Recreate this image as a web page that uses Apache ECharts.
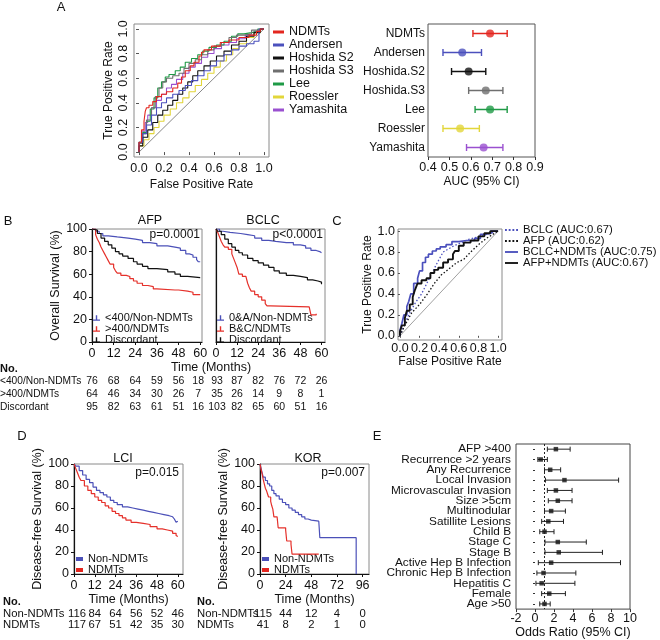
<!DOCTYPE html>
<html><head><meta charset="utf-8">
<script src="https://cdn.jsdelivr.net/npm/echarts@6/dist/echarts.min.js"></script>
<style>html,body{margin:0;padding:0;background:#fff}#c{width:660px;height:640px}</style>
</head><body><div id="c"></div>
<script>
// ---------------- DATA ----------------
// Panel A (left): ROC curves [FPR, TPR]
const rocNames = ['NDMTs','Andersen','Hoshida S2','Hoshida S3','Lee','Roessler','Yamashita'];
const rocNDMTs = [[0,0],[0.02,0.08],[0.04,0.18],[0.05,0.25],[0.06,0.33],[0.08,0.36],[0.11,0.38],[0.14,0.41],[0.18,0.45],[0.22,0.47],[0.27,0.49],[0.31,0.52],[0.34,0.56],[0.37,0.61],[0.41,0.66],[0.44,0.70],[0.48,0.73],[0.50,0.78],[0.52,0.81],[0.58,0.83],[0.65,0.86],[0.72,0.89],[0.80,0.91],[0.88,0.93],[0.94,0.95],[0.97,0.98],[1,1]];
const rocAndersen = [[0,0],[0.03,0.08],[0.06,0.15],[0.1,0.22],[0.14,0.3],[0.18,0.36],[0.22,0.4],[0.27,0.44],[0.32,0.47],[0.37,0.5],[0.42,0.54],[0.47,0.58],[0.52,0.62],[0.57,0.66],[0.62,0.7],[0.68,0.74],[0.74,0.79],[0.8,0.83],[0.86,0.86],[0.92,0.88],[0.96,0.9],[1,1]];
const rocHoshidaS2 = [[0,0],[0.03,0.05],[0.07,0.12],[0.11,0.18],[0.15,0.24],[0.19,0.3],[0.23,0.34],[0.27,0.38],[0.31,0.42],[0.35,0.47],[0.39,0.52],[0.43,0.57],[0.47,0.62],[0.52,0.66],[0.57,0.7],[0.62,0.74],[0.68,0.78],[0.74,0.82],[0.8,0.87],[0.86,0.9],[0.92,0.94],[0.97,0.97],[1,1]];
const rocHoshidaS3 = [[0,0],[0.03,0.07],[0.06,0.15],[0.1,0.26],[0.13,0.36],[0.16,0.45],[0.19,0.52],[0.22,0.57],[0.27,0.6],[0.32,0.62],[0.36,0.64],[0.4,0.68],[0.45,0.72],[0.5,0.75],[0.55,0.79],[0.6,0.83],[0.66,0.86],[0.72,0.89],[0.78,0.93],[0.84,0.95],[0.9,0.96],[0.95,0.99],[1,1]];
const rocLee = [[0,0],[0.03,0.08],[0.06,0.16],[0.09,0.25],[0.12,0.35],[0.15,0.44],[0.18,0.52],[0.21,0.57],[0.24,0.61],[0.29,0.63],[0.33,0.66],[0.37,0.69],[0.42,0.73],[0.47,0.76],[0.51,0.79],[0.56,0.82],[0.62,0.85],[0.68,0.87],[0.74,0.9],[0.79,0.94],[0.84,0.96],[0.9,0.97],[0.95,0.98],[1,1]];
const rocRoessler = [[0,0],[0.04,0.05],[0.08,0.1],[0.12,0.15],[0.16,0.2],[0.2,0.25],[0.25,0.3],[0.3,0.35],[0.35,0.4],[0.4,0.44],[0.45,0.49],[0.5,0.54],[0.55,0.59],[0.6,0.64],[0.65,0.69],[0.7,0.74],[0.75,0.79],[0.8,0.84],[0.86,0.88],[0.92,0.93],[0.97,0.97],[1,1]];
const rocYamashita = [[0,0],[0.02,0.07],[0.05,0.17],[0.07,0.24],[0.1,0.3],[0.14,0.36],[0.18,0.42],[0.22,0.47],[0.26,0.52],[0.3,0.55],[0.35,0.59],[0.4,0.64],[0.45,0.69],[0.5,0.72],[0.55,0.77],[0.6,0.8],[0.66,0.84],[0.72,0.87],[0.78,0.89],[0.85,0.92],[0.92,0.95],[0.97,0.98],[1,1]];
const rocTicks = [0,0.2,0.4,0.6,0.8,1.0];

// Panel A (right): AUC with 95% CI
const aucModels = ['NDMTs','Andersen','Hoshida.S2','Hoshida.S3','Lee','Roessler','Yamashita'];
const aucEst  = [0.69,0.56,0.59,0.67,0.69,0.55,0.66];
const aucLow  = [0.61,0.47,0.51,0.59,0.62,0.47,0.58];
const aucHigh = [0.77,0.65,0.67,0.75,0.77,0.64,0.75];

// Panel B: Kaplan-Meier overall survival [month, %]
const kmTicksB = [0,12,24,36,48,60];
const afpLow   = [[0,100],[2,98],[4,96],[6,94],[9,93],[14,92],[20,91],[24,90],[28,88],[32,87],[36,85],[42,84],[46,83],[49,81],[52,78],[54,77],[56,75],[58,73],[59,71],[60,71]];
const afpHigh  = [[0,100],[2,95],[3,91],[4,88],[5,84],[6,81],[7,78],[8,75],[9,72],[10,69],[12,66],[13,63],[14,61],[16,59],[19,58],[21,56],[23,54],[25,52],[28,50],[31,49],[34,47],[36,46],[46,46],[48,45],[53,44],[56,42],[60,42]];
const afpDisc  = [[0,100],[1,99],[3,96],[5,92],[7,89],[9,86],[11,83],[13,80],[15,78],[17,76],[20,74],[23,71],[25,69],[28,67],[31,65],[36,64],[42,62],[46,60],[49,58],[53,57],[60,57]];
const bclcLow  = [[0,100],[2,98],[4,97],[8,96],[14,95],[18,94],[22,92],[26,90],[30,89],[34,88],[40,88],[44,86],[48,85],[51,83],[54,81],[57,80],[59,79],[60,79]];
const bclcHigh = [[0,100],[1,97],[2,93],[3,89],[4,86],[5,84],[7,82],[9,78],[10,74],[11,70],[12,66],[13,60],[15,58],[17,57],[18,52],[19,48],[20,45],[22,42],[24,40],[26,37],[28,34],[29,32],[31,31],[53,31],[54,24],[57,25]];
const bclcDisc = [[0,100],[1,98],[3,95],[5,91],[7,87],[9,84],[11,81],[13,79],[15,77],[18,74],[21,72],[24,70],[27,68],[30,66],[33,63],[36,61],[40,59],[44,58],[48,57],[52,55],[55,54],[58,53],[60,51]];
const bRowLabels = ['<400/Non-NDMTs','>400/NDMTs','Discordant'];
const bLegendAFP  = ['<400/Non-NDMTs','>400/NDMTs','Discordant'];
const bLegendBCLC = ['0&A/Non-NDMTs','B&C/NDMTs','Discordant'];
const afpAtRisk  = [[76,68,64,59,56,18],[64,46,34,30,26,7],[95,82,63,61,51,16]];
const bclcAtRisk = [[93,87,82,76,72,26],[35,26,14,9,8,1],[103,82,65,60,51,16]];

// Panel C: ROC of combined models
const cNames = ['BCLC (AUC:0.67)','AFP (AUC:0.62)','BCLC+NDMTs (AUC:0.75)','AFP+NDMTs (AUC:0.67)'];
const rocBCLC = [[0,0],[0.05,0.12],[0.1,0.22],[0.16,0.32],[0.22,0.4],[0.3,0.55],[0.37,0.68],[0.44,0.8],[0.55,0.86],[0.7,0.92],[0.85,0.96],[1,1]];
const rocAFP = [[0,0],[0.05,0.1],[0.12,0.22],[0.2,0.3],[0.28,0.4],[0.35,0.5],[0.42,0.58],[0.5,0.64],[0.58,0.7],[0.65,0.73],[0.72,0.8],[0.8,0.87],[0.88,0.93],[1,1]];
const rocBCLCNDMTs = [[0,0],[0.02,0.05],[0.04,0.12],[0.07,0.2],[0.09,0.28],[0.11,0.33],[0.14,0.4],[0.14,0.47],[0.18,0.5],[0.2,0.55],[0.23,0.62],[0.26,0.7],[0.29,0.75],[0.33,0.78],[0.37,0.81],[0.41,0.83],[0.47,0.85],[0.53,0.87],[0.6,0.9],[0.68,0.91],[0.76,0.91],[0.82,0.93],[0.87,0.97],[0.93,0.98],[1,1]];
const rocAFPNDMTs = [[0,0],[0.02,0.04],[0.05,0.1],[0.07,0.17],[0.1,0.24],[0.13,0.3],[0.15,0.37],[0.17,0.43],[0.18,0.48],[0.22,0.5],[0.27,0.53],[0.31,0.55],[0.35,0.6],[0.39,0.63],[0.44,0.65],[0.49,0.7],[0.54,0.73],[0.56,0.78],[0.6,0.81],[0.65,0.86],[0.72,0.89],[0.8,0.91],[0.86,0.95],[0.92,0.98],[1,1]];

// Panel D: disease-free survival
const kmTicksLCI = [0,12,24,36,48,60];
const kmTicksKOR = [0,24,48,72,96];
const lciNon = [[0,100],[1,98],[3,94],[5,90],[7,86],[9,83],[11,79],[13,76],[15,74],[17,72],[19,70],[21,67],[23,65],[25,63],[28,61],[31,60],[34,59],[37,58],[40,57],[43,56],[46,55],[49,54],[52,53],[55,52],[57,51],[58,50],[59,47],[60,48]];
const lciNDMT = [[0,100],[1,96],[2,92],[3,88],[4,85],[6,80],[8,76],[10,73],[12,70],[14,67],[16,65],[18,62],[20,60],[22,57],[24,55],[26,53],[28,51],[30,49],[33,47],[36,46],[40,45],[44,43],[48,41],[51,40],[54,39],[57,37],[59,35],[60,34]];
const korNon = [[0,100],[1,96],[2,92],[3,88],[5,85],[7,82],[9,80],[11,76],[13,73],[15,71],[18,68],[21,65],[24,63],[27,60],[30,58],[33,56],[36,54],[39,52],[42,50],[45,49],[48,48],[55,48],[56,33],[90,33],[90,0]];
const korNDMT = [[0,100],[1,95],[2,91],[3,86],[4,82],[5,78],[6,76],[7,73],[8,70],[10,66],[11,62],[12,59],[13,52],[16,51],[17,42],[24,40],[25,30],[29,27],[30,18],[55,18]];
const dRowLabels = ['Non-NDMTs','NDMTs'];
const lciAtRisk = [[116,84,64,56,52,46],[117,67,51,42,35,30]];
const korAtRisk = [[115,44,12,4,0],[41,8,2,1,0]];

// Panel E: odds ratios
const orFactors = ['AFP >400','Recurrence >2 years','Any Recurrence','Local Invasion','Microvascular Invasion','Size >5cm','Multinodular','Satillite Lesions','Child B','Stage C','Stage B','Active Hep B Infection','Chronic Hep B Infection','Hepatitis C','Female','Age >50'];
const orEst  = [2.2,0.6,1.6,3.1,2.2,2.4,1.7,1.4,1.0,2.4,2.5,1.7,0.9,0.7,1.5,1.0];
const orLow  = [1.3,0.3,1.0,1.1,1.3,1.4,1.0,0.7,0.5,1.05,1.05,0.35,0.2,0.1,0.7,0.5];
const orHigh = [3.7,1.3,2.7,8.8,3.9,3.9,3.2,3.0,2.0,5.4,7.1,9.0,4.3,4.2,3.2,1.6];

// ---------------- STYLE ----------------
const FONT = 'Liberation Sans, Arial, Helvetica, sans-serif';
const TXT = '#111';
const RED = '#e3261f', BLUE = '#4b50bd', BLACK = '#111', GREY = '#6f6f6f', GREEN = '#1f9a46', YELLOW = '#e2d63a', PURPLE = '#9a50d0';
const rocColors = [RED, BLUE, BLACK, GREY, GREEN, YELLOW, PURPLE];
const rocData = [rocNDMTs, rocAndersen, rocHoshidaS2, rocHoshidaS3, rocLee, rocRoessler, rocYamashita];
const KMB = '#4b50b8', KMR = '#e5302a';

const chart = echarts.init(document.getElementById('c'));

function grid(l,t,w,h,bc){return {left:l,top:t,width:w,height:h,show:true,borderColor:bc||'#8a8a8a',borderWidth:1,backgroundColor:'transparent'};}
function lab(o){return Object.assign({color:TXT,fontSize:12,fontFamily:FONT},o||{});}
function nameStyle(fs){return {color:TXT,fontSize:fs||12,fontFamily:FONT};}

const grids = [
  grid(134,24,135,133,'#8a8a8a'),
  grid(428,24,107,133,'#555'),
  grid(92,229,110,113),
  grid(216,229,109,113),
  grid(398,229,104,111,'#8a8a8a'),
  grid(74,464,109,110),
  grid(260,464,109,110),
  grid(516,444,114,168,'#444')
];

const f1 = v => v.toFixed(1);
const kmXAxis = (gi,max,ticks,name,gap) => ({gridIndex:gi,type:'value',min:0,max:max,
  axisLine:{show:true,onZero:false,lineStyle:{color:'#111',width:1.2}},
  axisTick:{show:true,length:3,customValues:ticks,lineStyle:{color:'#111'}},
  axisLabel:lab({customValues:ticks,margin:5,fontSize:12.5}),
  splitLine:{show:false},
  name:name||'',nameLocation:'middle',nameGap:gap||17,nameTextStyle:nameStyle(12.5)});
const kmYAxis = (gi,showLab,name,gap) => ({gridIndex:gi,type:'value',min:0,max:100,interval:20,
  axisLine:{show:true,onZero:false,lineStyle:{color:'#111',width:1.2}},
  axisTick:{show:showLab,length:3,lineStyle:{color:'#111'}},
  axisLabel:lab({show:showLab,margin:5,fontSize:12.5}),
  splitLine:{show:false},
  name:name||'',nameLocation:'middle',nameRotate:90,nameGap:gap||21,nameTextStyle:nameStyle(12.5)});

const xAxes = [
  {gridIndex:0,type:'value',min:-0.04,max:1.04,axisLine:{show:false},
   axisTick:{show:true,length:3,customValues:rocTicks,lineStyle:{color:'#555'}},
   axisLabel:lab({customValues:rocTicks,formatter:f1,margin:5,fontSize:12.5}),splitLine:{show:false},
   name:'False Positive Rate',nameLocation:'middle',nameGap:22,nameTextStyle:nameStyle(12)},
  {gridIndex:1,type:'value',min:0.4,max:0.9,interval:0.1,axisLine:{show:false},
   axisTick:{show:true,length:3,lineStyle:{color:'#333'}},
   axisLabel:lab({formatter:f1,margin:4,fontSize:12.5}),splitLine:{show:false},
   name:'AUC (95% CI)',nameLocation:'middle',nameGap:19,nameTextStyle:nameStyle(12)},
  kmXAxis(2,61,kmTicksB),
  kmXAxis(3,62,kmTicksB),
  {gridIndex:4,type:'value',min:-0.02,max:1.04,axisLine:{show:false},
   axisTick:{show:true,length:2,customValues:rocTicks,lineStyle:{color:'#555'}},
   axisLabel:lab({customValues:rocTicks,formatter:f1,margin:2,fontSize:12.5}),splitLine:{show:false},
   name:'False Positive Rate',nameLocation:'middle',nameGap:16,nameTextStyle:nameStyle(12)},
  kmXAxis(5,63,kmTicksLCI,'Time (Months)',17),
  kmXAxis(6,102,kmTicksKOR,'Time (Months)',17),
  {gridIndex:7,type:'value',min:-2,max:10,interval:2,axisLine:{show:false},
   axisTick:{show:true,length:3,lineStyle:{color:'#333'}},
   axisLabel:lab({margin:3,fontSize:12.5}),splitLine:{show:false},
   name:'Odds Ratio (95% CI)',nameLocation:'middle',nameGap:14,nameTextStyle:nameStyle(12.5)}
];
const yAxes = [
  {gridIndex:0,type:'value',min:-0.04,max:1.04,axisLine:{show:false},
   axisTick:{show:true,length:3,customValues:rocTicks,lineStyle:{color:'#555'}},
   axisLabel:lab({customValues:rocTicks,formatter:f1,rotate:90,margin:4,fontSize:12.5}),splitLine:{show:false},
   name:'True Positive Rate',nameLocation:'middle',nameRotate:90,nameGap:19,nameTextStyle:nameStyle(12)},
  {gridIndex:1,type:'category',data:aucModels,inverse:true,axisLine:{show:false},axisTick:{show:false},
   axisLabel:lab({margin:3,fontSize:12})},
  kmYAxis(2,true,'Overall Survival (%)',30),
  kmYAxis(3,false),
  {gridIndex:4,type:'value',min:-0.04,max:1.02,axisLine:{show:false},
   axisTick:{show:true,length:2,customValues:rocTicks,lineStyle:{color:'#555'}},
   axisLabel:lab({customValues:rocTicks,formatter:f1,margin:3,fontSize:12.5}),splitLine:{show:false},
   name:'True Positive Rate',nameLocation:'middle',nameRotate:90,nameGap:22,nameTextStyle:nameStyle(12)},
  kmYAxis(5,true,'Disease-free Survival (%)',22),
  kmYAxis(6,true,'Disease-free Survival (%)',22),
  {gridIndex:7,type:'category',data:orFactors,inverse:true,axisLine:{show:false},
   axisTick:{show:true,length:2,alignWithLabel:true,lineStyle:{color:'#333'}},
   axisLabel:lab({margin:5,fontSize:11.8,interval:0})}
];

const series = [];
// A: ROC
rocNames.forEach((n,i)=>{
  series.push({name:n,type:'line',xAxisIndex:0,yAxisIndex:0,data:rocData[i],step:'start',symbol:'none',
    lineStyle:{color:rocColors[i],width:1.1},itemStyle:{color:rocColors[i]},z:10-i});
});
series.push({type:'line',xAxisIndex:0,yAxisIndex:0,data:[[0,0],[1,1]],symbol:'none',silent:true,
  lineStyle:{color:'#555',width:0.7},z:1});

// error bar renderer
function errRender(colors, capH, lw){
  return function(params, api){
    const idx = api.value(0);
    const lo = api.coord([api.value(1), idx]);
    const hi = api.coord([api.value(2), idx]);
    const c = Array.isArray(colors) ? colors[params.dataIndex] : colors;
    const st = {stroke:c, lineWidth:lw, fill:null};
    return {type:'group',children:[
      {type:'line',shape:{x1:lo[0],y1:lo[1],x2:hi[0],y2:hi[1]},style:st},
      {type:'line',shape:{x1:lo[0],y1:lo[1]-capH,x2:lo[0],y2:lo[1]+capH},style:st},
      {type:'line',shape:{x1:hi[0],y1:hi[1]-capH,x2:hi[0],y2:hi[1]+capH},style:st}
    ]};
  };
}
// A: forest
series.push({type:'custom',xAxisIndex:1,yAxisIndex:1,renderItem:errRender(rocColors,3.5,1.4),
  encode:{x:[1,2],y:0},data:aucModels.map((m,i)=>[i,aucLow[i],aucHigh[i]]),z:3});
series.push({type:'scatter',xAxisIndex:1,yAxisIndex:1,symbol:'circle',symbolSize:8,
  data:aucModels.map((m,i)=>({value:[aucEst[i],m],itemStyle:{color:rocColors[i]}})),z:4});

// B: KM
function km(name,data,xi,color){
  return {name:name,type:'line',xAxisIndex:xi,yAxisIndex:xi,data:data,step:'end',symbol:'none',
    lineStyle:{color:color,width:1.2},itemStyle:{color:color},z:5};
}
series.push(km(bLegendAFP[0],afpLow,2,KMB), km(bLegendAFP[1],afpHigh,2,KMR), km(bLegendAFP[2],afpDisc,2,BLACK));
series.push(km(bLegendBCLC[0],bclcLow,3,KMB), km(bLegendBCLC[1],bclcHigh,3,KMR), km(bLegendBCLC[2],bclcDisc,3,BLACK));

// C: ROC
series.push({name:cNames[0],type:'line',xAxisIndex:4,yAxisIndex:4,data:rocBCLC,symbol:'none',
  lineStyle:{color:BLUE,width:1.3,type:[1.5,2]},itemStyle:{color:BLUE},z:5});
series.push({name:cNames[1],type:'line',xAxisIndex:4,yAxisIndex:4,data:rocAFP,symbol:'none',
  lineStyle:{color:BLACK,width:1.3,type:[1.5,2]},itemStyle:{color:BLACK},z:5});
series.push({name:cNames[2],type:'line',xAxisIndex:4,yAxisIndex:4,data:rocBCLCNDMTs,step:'start',symbol:'none',
  lineStyle:{color:BLUE,width:1.7},itemStyle:{color:BLUE},z:6});
series.push({name:cNames[3],type:'line',xAxisIndex:4,yAxisIndex:4,data:rocAFPNDMTs,step:'start',symbol:'none',
  lineStyle:{color:BLACK,width:1.9},itemStyle:{color:BLACK},z:7});
series.push({type:'line',xAxisIndex:4,yAxisIndex:4,data:[[0,0],[1,1]],symbol:'none',silent:true,
  lineStyle:{color:'#888',width:0.8},z:1});

// D: KM
series.push(km('Non-NDMTs',lciNon,5,KMB), km('NDMTs',lciNDMT,5,KMR));
series.push(km('Non-NDMTs',korNon,6,KMB), km('NDMTs',korNDMT,6,KMR));

// E: forest
series.push({type:'custom',xAxisIndex:7,yAxisIndex:7,renderItem:errRender('#222',2.5,1),
  encode:{x:[1,2],y:0},data:orFactors.map((f,i)=>[i,orLow[i],orHigh[i]]),z:3,
  markLine:{silent:true,symbol:'none',label:{show:false},lineStyle:{color:'#222',type:[2,2],width:1},data:[{xAxis:1}]}});
series.push({type:'scatter',xAxisIndex:7,yAxisIndex:7,symbol:'rect',symbolSize:4.5,
  itemStyle:{color:'#111'},data:orFactors.map((f,i)=>[orEst[i],f]),z:4});

const kmIcon = 'path://M0,8h10v2h-10z M4,2h2v6h-2z';
const dotIcon = 'path://M0,0h2v2h-2z M4,0h2v2h-2z M8,0h2v2h-2z M12,0h2v2h-2z';
const solidIcon = 'path://M0,0h14v2h-14z';
const legends = [
  {orient:'vertical',left:273,top:25.5,itemWidth:11,itemHeight:3,icon:'rect',itemGap:0,padding:0,
   textStyle:{color:TXT,fontSize:12.5,fontFamily:FONT,lineHeight:10.8},data:rocNames},
  {orient:'vertical',left:505,top:224.5,itemWidth:13,itemHeight:2.5,itemGap:0,padding:0,
   textStyle:{color:TXT,fontSize:11.3,fontFamily:FONT,lineHeight:11},
   data:[{name:cNames[0],icon:dotIcon},{name:cNames[1],icon:dotIcon},{name:cNames[2],icon:solidIcon},{name:cNames[3],icon:solidIcon}]},
  {orient:'vertical',left:93,top:312.5,itemWidth:7,itemHeight:6,icon:kmIcon,itemGap:0,padding:0,
   textStyle:{color:TXT,fontSize:11,fontFamily:FONT,lineHeight:8.7},data:bLegendAFP},
  {orient:'vertical',left:217,top:312.5,itemWidth:7,itemHeight:6,icon:kmIcon,itemGap:0,padding:0,
   textStyle:{color:TXT,fontSize:11,fontFamily:FONT,lineHeight:8.7},data:bLegendBCLC},
  {orient:'vertical',left:76,top:553.5,itemWidth:7,itemHeight:4,icon:'rect',itemGap:0,padding:0,
   textStyle:{color:TXT,fontSize:11,fontFamily:FONT,lineHeight:9.3},data:['Non-NDMTs','NDMTs']},
  {orient:'vertical',left:262,top:553.5,itemWidth:7,itemHeight:4,icon:'rect',itemGap:0,padding:0,
   textStyle:{color:TXT,fontSize:11,fontFamily:FONT,lineHeight:9.3},data:['Non-NDMTs','NDMTs']}
];

chart.setOption({
  animation:false,
  textStyle:{fontFamily:FONT,color:TXT},
  grid:grids, xAxis:xAxes, yAxis:yAxes, series:series, legend:legends
});

// ---------------- TEXT (titles, panel letters, at-risk tables) ----------------
function t(text,x,y,opt){
  opt = opt||{};
  return {type:'text',x:x,y:y,silent:true,z:100,style:{text:text,fill:TXT,fontFamily:FONT,
    fontSize:opt.fs||12,fontWeight:opt.bold?'bold':'normal',align:opt.align||'center',verticalAlign:'middle'}};
}
const g = [];
[['A',61,7],['B',8,221],['C',337,221],['D',22,436],['E',377,436]].forEach(p=>g.push(t(p[0],p[1],p[2],{fs:13})));
g.push(t('AFP',150,221,{fs:12.5}), t('BCLC',263,221,{fs:12.5}), t('LCI',123,459,{fs:12.5}), t('KOR',308,459,{fs:12.5}));
g.push(t('p=0.0001',200,235,{align:'right',fs:12}), t('p<0.0001',323,235,{align:'right',fs:12}));
g.push(t('p=0.015',179,473,{align:'right',fs:12}), t('p=0.007',365,473,{align:'right',fs:12}));
g.push(t('Time (Months)',211,368,{fs:12.5}));

// B table
g.push(t('No.',0,369,{align:'left',bold:true,fs:11}));
const bRowY = [381,394,407];
bRowLabels.forEach((r,i)=>g.push(t(r,0,bRowY[i],{align:'left',fs:10.2})));
kmTicksB.forEach((m,j)=>{
  const xa = chart.convertToPixel({gridIndex:2},[m,0])[0] - (j===5?2:0);
  const xb = chart.convertToPixel({gridIndex:3},[m,0])[0] + (j===0?1:0);
  for(let i=0;i<3;i++){
    g.push(t(String(afpAtRisk[i][j]),xa,bRowY[i],{fs:10.5}));
    g.push(t(String(bclcAtRisk[i][j]),xb,bRowY[i],{fs:10.5}));
  }
});
// D tables
const dRowY = [614,625];
g.push(t('No.',3,602,{align:'left',bold:true,fs:11}), t('No.',197,602,{align:'left',bold:true,fs:11}));
dRowLabels.forEach((r,i)=>{g.push(t(r,3,dRowY[i],{align:'left',fs:11.3})); g.push(t(r,197,dRowY[i],{align:'left',fs:11.3}));});
kmTicksLCI.forEach((m,j)=>{
  const x = chart.convertToPixel({gridIndex:5},[m,0])[0] + (j===0?3:0);
  for(let i=0;i<2;i++) g.push(t(String(lciAtRisk[i][j]),x,dRowY[i],{fs:11.3}));
});
kmTicksKOR.forEach((m,j)=>{
  const x = chart.convertToPixel({gridIndex:6},[m,0])[0] + (j===0?3:0);
  for(let i=0;i<2;i++) g.push(t(String(korAtRisk[i][j]),x,dRowY[i],{fs:11.3}));
});
chart.setOption({graphic:g});
</script></body></html>
